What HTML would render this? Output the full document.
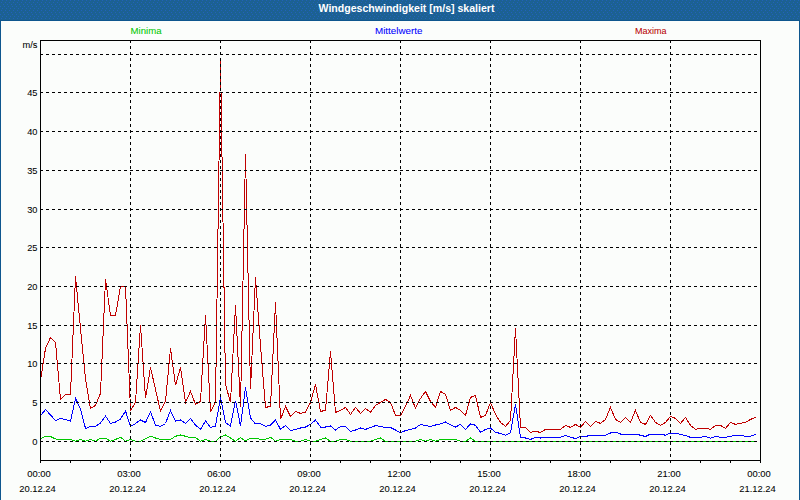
<!DOCTYPE html>
<html><head><meta charset="utf-8"><style>
html,body{margin:0;padding:0;}
body{width:800px;height:500px;position:relative;overflow:hidden;background:#fbfdfb;font-family:"Liberation Sans", sans-serif;}
#frame{position:absolute;left:0;top:20px;width:798px;height:479px;border:1px solid #0e568e;}
#bar{position:absolute;left:0;top:0;width:800px;height:20px;}
</style></head><body>
<div id="frame"></div>
<svg id="bar" width="800" height="20"><defs><pattern id="dp" width="4" height="8" patternUnits="userSpaceOnUse"><rect width="4" height="8" fill="#1c6192"/><rect x="2" y="0" width="1" height="1" fill="#2262bc"/><rect x="1" y="2" width="1" height="1" fill="#2262bc"/><rect x="3" y="4" width="1" height="1" fill="#2262bc"/><rect x="0" y="6" width="1" height="1" fill="#2262bc"/></pattern></defs><rect width="800" height="20" fill="url(#dp)"/></svg>
<svg width="800" height="500" style="position:absolute;left:0;top:0"><polyline points="40.5,438.5 45.5,436.5 50.5,436.5 55.5,439 60.5,439.4 65.5,439.4 70.5,439.4 75.5,441.25 80.5,439.4 85.5,441.25 90.5,439.4 95.5,441.25 100.5,438 105.5,438 110.5,441.25 115.5,439.4 120.5,437.25 125.5,441.25 130.5,439.4 135.5,441.25 140.5,441.25 145.5,438.75 150.5,436.25 155.5,438 160.5,439.4 165.5,439.4 170.5,439.4 175.5,436.25 180.5,435 185.5,436.25 190.5,438 195.5,437.5 200.5,441.25 205.5,439.4 210.5,441.25 215.5,441.25 220.5,437 225.5,435 230.5,438 235.5,441.25 240.5,437.5 245.5,441 250.5,438 255.5,438 260.5,439.4 265.5,439.4 270.5,437.25 275.5,441.25 280.5,439.4 285.5,439.4 290.5,439.4 295.5,441.25 300.5,441.25 305.5,439.4 310.5,441.25 315.5,441.25 320.5,439.4 325.5,438 330.5,441.25 335.5,441.25 340.5,439.4 345.5,439.4 350.5,441.25 355.5,441.25 360.5,441.25 365.5,441.25 370.5,441.25 375.5,439.4 380.5,438 385.5,441.25 390.5,441.25 395.5,441.25 400.5,441.25 405.5,441.25 410.5,441.25 415.5,441.25 420.5,439.4 425.5,441.25 430.5,439.6 435.5,441.25 440.5,439.4 445.5,439.4 450.5,439.4 455.5,439.4 460.5,441.25 465.5,441.25 470.5,438 475.5,441.25 480.5,441.25 485.5,441.25 490.5,441.25 495.5,441.25 500.5,441.25 505.5,441.25 510.5,441.25 515.5,441.25 520.5,441.25 525.5,441.25 530.5,441.25 535.5,441.25 540.5,441.25 545.5,441.25 550.5,441.25 555.5,441.25 560.5,441.25 565.5,441.25 570.5,441.25 575.5,441.25 580.5,441.25 585.5,441.25 590.5,441.25 595.5,441.25 600.5,441.25 605.5,441.25 610.5,441.25 615.5,441.25 620.5,441.25 625.5,441.25 630.5,441.25 635.5,441.25 640.5,441.25 645.5,441.25 650.5,441.25 655.5,441.25 660.5,441.25 665.5,441.25 670.5,441.25 675.5,441.25 680.5,441.25 685.5,441.25 690.5,441.25 695.5,441.25 700.5,441.25 705.5,441.25 710.5,441.25 715.5,441.25 720.5,441.25 725.5,441.25 730.5,441.25 735.5,441.25 740.5,441.25 745.5,441.25 750.5,441.25 755.5,441.25" fill="none" stroke="#00c800" stroke-width="1" shape-rendering="crispEdges"/><polyline points="40.5,416 45.5,409.4 50.5,415 55.5,420.6 60.5,418.5 65.5,419.4 70.5,421 75.5,398.5 80.5,408.75 85.5,428.5 90.5,426.5 95.5,426.5 100.5,423 105.5,416 110.5,423.5 115.5,422 120.5,419 125.5,411 130.5,426.5 135.5,423.5 140.5,420 145.5,422.5 150.5,411.9 155.5,425 160.5,426.5 165.5,423.5 170.5,410.6 175.5,421 180.5,420 185.5,423.5 190.5,418.5 195.5,425 200.5,429.4 205.5,421 210.5,427.5 215.5,426 220.5,397.5 225.5,422.75 230.5,426 235.5,400.6 240.5,426 245.5,387.5 250.5,418 255.5,424 260.5,423.5 265.5,426.5 270.5,425 275.5,420 280.5,429.4 285.5,425.6 290.5,430.6 295.5,429.4 300.5,428 305.5,427 310.5,424.4 315.5,420 320.5,427 325.5,427 330.5,426 335.5,430 340.5,426.5 345.5,426.5 350.5,431.5 355.5,430 360.5,428 365.5,429.4 370.5,427.5 375.5,425.6 380.5,426.5 385.5,427.5 390.5,427.5 395.5,430 400.5,432.75 405.5,430.6 410.5,429.4 415.5,428 420.5,424.4 425.5,425.6 430.5,426.5 435.5,425 440.5,424 445.5,422 450.5,424.75 455.5,427 460.5,424.4 465.5,429.4 470.5,424 475.5,425.25 480.5,432.25 485.5,429.4 490.5,428 495.5,432.25 500.5,433.5 505.5,435.25 510.5,432.75 515.5,404.4 520.5,437.25 525.5,438 530.5,439.4 535.5,437.25 540.5,438 545.5,437.25 550.5,437.25 555.5,437.25 560.5,437.25 565.5,435.25 570.5,437.25 575.5,438.5 580.5,436.5 585.5,436.5 590.5,435.25 595.5,435.25 600.5,435.25 605.5,435.25 610.5,433 615.5,432.25 620.5,434 625.5,434 630.5,434 635.5,434 640.5,435.25 645.5,436.5 650.5,434 655.5,434 660.5,434 665.5,435.25 670.5,433 675.5,433 680.5,434.5 685.5,435.4 690.5,437.4 695.5,437.4 700.5,437.4 705.5,436.25 710.5,438.25 715.5,436.25 720.5,437.4 725.5,437.4 730.5,436.25 735.5,435.25 740.5,435.25 745.5,436.25 750.5,436.25 755.5,434.4" fill="none" stroke="#0000ff" stroke-width="1" shape-rendering="crispEdges"/><polyline points="40.5,380.4 45.5,348.4 50.5,337.4 55.5,342.4 60.5,399.4 65.5,394.4 70.5,394.4 75.5,276.4 80.5,328.4 85.5,378.4 90.5,408.4 95.5,405.4 100.5,393.4 105.5,279.4 110.5,315.4 115.5,315.4 120.5,286.4 125.5,286.4 130.5,410.4 135.5,402.4 140.5,325.4 145.5,398.4 150.5,367.4 155.5,389.4 160.5,411.4 165.5,401.4 170.5,348.4 175.5,385.4 180.5,367.4 185.5,402.4 190.5,391.4 195.5,404.4 200.5,401.4 205.5,315.4 210.5,411.4 215.5,402.4 220.5,58.4 225.5,384.4 230.5,402.4 235.5,305.4 240.5,407.4 245.5,154.4 250.5,389.4 255.5,277.4 260.5,345.4 265.5,407.4 270.5,406.4 275.5,302.4 280.5,419.4 285.5,406.4 290.5,416.4 295.5,411.4 300.5,413.4 305.5,412.4 310.5,402.4 315.5,384.4 320.5,411.4 325.5,410.4 330.5,351.4 335.5,412.4 340.5,410.4 345.5,407.4 350.5,414.4 355.5,407.4 360.5,413.4 365.5,408.4 370.5,412.4 375.5,405.4 380.5,402.4 385.5,399.4 390.5,402.4 395.5,415.4 400.5,415.4 405.5,406.4 410.5,395.4 415.5,408.4 420.5,398.4 425.5,391.4 430.5,401.4 435.5,407.4 440.5,391.4 445.5,394.4 450.5,410.4 455.5,407.4 460.5,410.4 465.5,415.4 470.5,397.4 475.5,395.4 480.5,417.4 485.5,415.4 490.5,402.4 495.5,414.4 500.5,422.4 505.5,426.4 510.5,420.4 515.5,328.4 520.5,427.4 525.5,427.4 530.5,432.4 535.5,431.4 540.5,432.4 545.5,429.4 550.5,429.4 555.5,429.4 560.5,429.4 565.5,425.4 570.5,427.4 575.5,424.4 580.5,427.4 585.5,421.4 590.5,426.4 595.5,421.4 600.5,423.4 605.5,419.4 610.5,407.4 615.5,419.4 620.5,422.4 625.5,417.4 630.5,422.4 635.5,410.4 640.5,422.4 645.5,424.4 650.5,415.4 655.5,422.4 660.5,425.4 665.5,422.4 670.5,416.4 675.5,418.4 680.5,423.4 685.5,417.4 690.5,425.4 695.5,429.4 700.5,428.4 705.5,428.4 710.5,429.4 715.5,425.4 720.5,425.4 725.5,428.4 730.5,422.4 735.5,424.4 740.5,423.4 745.5,422.4 750.5,419.4 755.5,417.4" fill="none" stroke="#c00000" stroke-width="1" shape-rendering="crispEdges"/><g stroke="#000" stroke-width="1" stroke-dasharray="3 3" shape-rendering="crispEdges"><line x1="40" y1="441.5" x2="757" y2="441.5"/><line x1="40" y1="402.5" x2="757" y2="402.5"/><line x1="40" y1="363.5" x2="757" y2="363.5"/><line x1="40" y1="325.5" x2="757" y2="325.5"/><line x1="40" y1="286.5" x2="757" y2="286.5"/><line x1="40" y1="247.5" x2="757" y2="247.5"/><line x1="40" y1="209.5" x2="757" y2="209.5"/><line x1="40" y1="170.5" x2="757" y2="170.5"/><line x1="40" y1="131.5" x2="757" y2="131.5"/><line x1="40" y1="92.5" x2="757" y2="92.5"/><line x1="40" y1="54.5" x2="757" y2="54.5"/><line x1="130.5" y1="40" x2="130.5" y2="460"/><line x1="220.5" y1="40" x2="220.5" y2="460"/><line x1="310.5" y1="40" x2="310.5" y2="460"/><line x1="400.5" y1="40" x2="400.5" y2="460"/><line x1="490.5" y1="40" x2="490.5" y2="460"/><line x1="580.5" y1="40" x2="580.5" y2="460"/><line x1="670.5" y1="40" x2="670.5" y2="460"/></g><g stroke="#000" stroke-width="1" shape-rendering="crispEdges"><rect x="40.5" y="40.5" width="720" height="420" fill="none"/><line x1="40.5" y1="460" x2="40.5" y2="463"/><line x1="70.5" y1="460" x2="70.5" y2="463"/><line x1="100.5" y1="460" x2="100.5" y2="463"/><line x1="130.5" y1="460" x2="130.5" y2="463"/><line x1="160.5" y1="460" x2="160.5" y2="463"/><line x1="190.5" y1="460" x2="190.5" y2="463"/><line x1="220.5" y1="460" x2="220.5" y2="463"/><line x1="250.5" y1="460" x2="250.5" y2="463"/><line x1="280.5" y1="460" x2="280.5" y2="463"/><line x1="310.5" y1="460" x2="310.5" y2="463"/><line x1="340.5" y1="460" x2="340.5" y2="463"/><line x1="370.5" y1="460" x2="370.5" y2="463"/><line x1="400.5" y1="460" x2="400.5" y2="463"/><line x1="430.5" y1="460" x2="430.5" y2="463"/><line x1="460.5" y1="460" x2="460.5" y2="463"/><line x1="490.5" y1="460" x2="490.5" y2="463"/><line x1="520.5" y1="460" x2="520.5" y2="463"/><line x1="550.5" y1="460" x2="550.5" y2="463"/><line x1="580.5" y1="460" x2="580.5" y2="463"/><line x1="610.5" y1="460" x2="610.5" y2="463"/><line x1="640.5" y1="460" x2="640.5" y2="463"/><line x1="670.5" y1="460" x2="670.5" y2="463"/><line x1="700.5" y1="460" x2="700.5" y2="463"/><line x1="730.5" y1="460" x2="730.5" y2="463"/><line x1="760.5" y1="460" x2="760.5" y2="463"/></g><g font-family='"Liberation Sans", sans-serif'><text x="406.5" y="12" fill="#ffffff" stroke="#ffffff" stroke-width="0.0" font-size="10" text-anchor="middle" font-weight="bold" textLength="176" lengthAdjust="spacingAndGlyphs">Windgeschwindigkeit [m/s] skaliert</text><text x="146" y="34" fill="#00c800" stroke="#00c800" stroke-width="0.06" font-size="9.6" text-anchor="middle" font-weight="normal" textLength="31" lengthAdjust="spacingAndGlyphs">Minima</text><text x="398.75" y="34" fill="#0000ff" stroke="#0000ff" stroke-width="0.06" font-size="9.6" text-anchor="middle" font-weight="normal" textLength="47.5" lengthAdjust="spacingAndGlyphs">Mittelwerte</text><text x="650.7" y="34" fill="#b80000" stroke="#b80000" stroke-width="0.06" font-size="9.6" text-anchor="middle" font-weight="normal" textLength="31.5" lengthAdjust="spacingAndGlyphs">Maxima</text><text x="37.5" y="48" fill="#000" stroke="#000" stroke-width="0.06" font-size="9.7" text-anchor="end" font-weight="normal" textLength="15" lengthAdjust="spacingAndGlyphs">m/s</text><text x="37.5" y="445" fill="#000" stroke="#000" stroke-width="0.06" font-size="9.7" text-anchor="end" font-weight="normal" textLength="5.2" lengthAdjust="spacingAndGlyphs">0</text><text x="37.5" y="406" fill="#000" stroke="#000" stroke-width="0.06" font-size="9.7" text-anchor="end" font-weight="normal" textLength="5.2" lengthAdjust="spacingAndGlyphs">5</text><text x="37.5" y="367" fill="#000" stroke="#000" stroke-width="0.06" font-size="9.7" text-anchor="end" font-weight="normal" textLength="10.3" lengthAdjust="spacingAndGlyphs">10</text><text x="37.5" y="329" fill="#000" stroke="#000" stroke-width="0.06" font-size="9.7" text-anchor="end" font-weight="normal" textLength="10.3" lengthAdjust="spacingAndGlyphs">15</text><text x="37.5" y="290" fill="#000" stroke="#000" stroke-width="0.06" font-size="9.7" text-anchor="end" font-weight="normal" textLength="10.3" lengthAdjust="spacingAndGlyphs">20</text><text x="37.5" y="251" fill="#000" stroke="#000" stroke-width="0.06" font-size="9.7" text-anchor="end" font-weight="normal" textLength="10.3" lengthAdjust="spacingAndGlyphs">25</text><text x="37.5" y="213" fill="#000" stroke="#000" stroke-width="0.06" font-size="9.7" text-anchor="end" font-weight="normal" textLength="10.3" lengthAdjust="spacingAndGlyphs">30</text><text x="37.5" y="174" fill="#000" stroke="#000" stroke-width="0.06" font-size="9.7" text-anchor="end" font-weight="normal" textLength="10.3" lengthAdjust="spacingAndGlyphs">35</text><text x="37.5" y="135" fill="#000" stroke="#000" stroke-width="0.06" font-size="9.7" text-anchor="end" font-weight="normal" textLength="10.3" lengthAdjust="spacingAndGlyphs">40</text><text x="37.5" y="96" fill="#000" stroke="#000" stroke-width="0.06" font-size="9.7" text-anchor="end" font-weight="normal" textLength="10.3" lengthAdjust="spacingAndGlyphs">45</text><text x="39.0" y="477" fill="#000" stroke="#000" stroke-width="0.06" font-size="9.7" text-anchor="middle" font-weight="normal" textLength="23.5" lengthAdjust="spacingAndGlyphs">00:00</text><text x="37.5" y="492" fill="#000" stroke="#000" stroke-width="0.06" font-size="9.7" text-anchor="middle" font-weight="normal" textLength="36.5" lengthAdjust="spacingAndGlyphs">20.12.24</text><text x="129.0" y="477" fill="#000" stroke="#000" stroke-width="0.06" font-size="9.7" text-anchor="middle" font-weight="normal" textLength="23.5" lengthAdjust="spacingAndGlyphs">03:00</text><text x="127.5" y="492" fill="#000" stroke="#000" stroke-width="0.06" font-size="9.7" text-anchor="middle" font-weight="normal" textLength="36.5" lengthAdjust="spacingAndGlyphs">20.12.24</text><text x="219.0" y="477" fill="#000" stroke="#000" stroke-width="0.06" font-size="9.7" text-anchor="middle" font-weight="normal" textLength="23.5" lengthAdjust="spacingAndGlyphs">06:00</text><text x="217.5" y="492" fill="#000" stroke="#000" stroke-width="0.06" font-size="9.7" text-anchor="middle" font-weight="normal" textLength="36.5" lengthAdjust="spacingAndGlyphs">20.12.24</text><text x="309.0" y="477" fill="#000" stroke="#000" stroke-width="0.06" font-size="9.7" text-anchor="middle" font-weight="normal" textLength="23.5" lengthAdjust="spacingAndGlyphs">09:00</text><text x="307.5" y="492" fill="#000" stroke="#000" stroke-width="0.06" font-size="9.7" text-anchor="middle" font-weight="normal" textLength="36.5" lengthAdjust="spacingAndGlyphs">20.12.24</text><text x="399.0" y="477" fill="#000" stroke="#000" stroke-width="0.06" font-size="9.7" text-anchor="middle" font-weight="normal" textLength="23.5" lengthAdjust="spacingAndGlyphs">12:00</text><text x="397.5" y="492" fill="#000" stroke="#000" stroke-width="0.06" font-size="9.7" text-anchor="middle" font-weight="normal" textLength="36.5" lengthAdjust="spacingAndGlyphs">20.12.24</text><text x="489.0" y="477" fill="#000" stroke="#000" stroke-width="0.06" font-size="9.7" text-anchor="middle" font-weight="normal" textLength="23.5" lengthAdjust="spacingAndGlyphs">15:00</text><text x="487.5" y="492" fill="#000" stroke="#000" stroke-width="0.06" font-size="9.7" text-anchor="middle" font-weight="normal" textLength="36.5" lengthAdjust="spacingAndGlyphs">20.12.24</text><text x="579.0" y="477" fill="#000" stroke="#000" stroke-width="0.06" font-size="9.7" text-anchor="middle" font-weight="normal" textLength="23.5" lengthAdjust="spacingAndGlyphs">18:00</text><text x="577.5" y="492" fill="#000" stroke="#000" stroke-width="0.06" font-size="9.7" text-anchor="middle" font-weight="normal" textLength="36.5" lengthAdjust="spacingAndGlyphs">20.12.24</text><text x="669.0" y="477" fill="#000" stroke="#000" stroke-width="0.06" font-size="9.7" text-anchor="middle" font-weight="normal" textLength="23.5" lengthAdjust="spacingAndGlyphs">21:00</text><text x="667.5" y="492" fill="#000" stroke="#000" stroke-width="0.06" font-size="9.7" text-anchor="middle" font-weight="normal" textLength="36.5" lengthAdjust="spacingAndGlyphs">20.12.24</text><text x="759.0" y="477" fill="#000" stroke="#000" stroke-width="0.06" font-size="9.7" text-anchor="middle" font-weight="normal" textLength="23.5" lengthAdjust="spacingAndGlyphs">00:00</text><text x="757.5" y="492" fill="#000" stroke="#000" stroke-width="0.06" font-size="9.7" text-anchor="middle" font-weight="normal" textLength="36.5" lengthAdjust="spacingAndGlyphs">21.12.24</text></g></svg>
</body></html>
